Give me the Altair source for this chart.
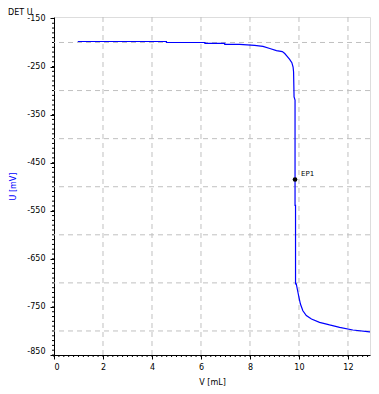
import altair as alt
import pandas as pd

# Titration curve
volume_ml = [0.97, 4.59, 4.59, 6.16, 6.16, 6.97, 6.97, 7.58, 8.19, 8.53, 8.81, 9.08, 9.32,
             9.42, 9.51, 9.62, 9.71, 9.76, 9.78, 9.80, 9.84, 9.84, 9.86, 9.86, 9.89,
             9.96, 10.00, 10.06, 10.16, 10.30, 10.51, 10.84, 11.25, 11.66, 12.20, 12.88, 12.90]
potential_mv = [-198, -198, -200, -200, -202, -202, -204, -204, -206, -208, -212.5, -217, -219,
                -223, -228.5, -235, -242, -251, -261, -313, -320, -539, -539, -702, -702,
                -720, -730, -744, -758, -768, -775, -782, -787.5, -792.5, -798, -802, -802]

ep_volume = [9.84]
ep_potential = [-485]
ep_label = ["EP1"]

corner_title = ["DET U"]

x_label_values = [0, 2, 4, 6, 8, 10, 12]
x_grid_values = [2, 4, 6, 8, 10, 12]
x_minor_values = [round(i * 0.2, 1) for i in range(65)]
y_major_values = list(range(-850, -149, 50))
y_grid_values = [-800, -700, -600, -500, -400, -300, -200]
y_minor_values = list(range(-850, -146, 10))

FONT = "DejaVu Sans"
W, H = 316, 338
GRID = "#c0c0c0"

curve = pd.DataFrame({"V": volume_ml, "U": potential_mv, "i": list(range(len(volume_ml)))})
ep = pd.DataFrame({"V": ep_volume, "U": ep_potential, "t": ep_label})
ttl = pd.DataFrame({"t": corner_title})

x_scale = alt.Scale(domain=[0, 12.9], nice=False, zero=False)
y_scale = alt.Scale(domain=[-850, -147], nice=False, zero=False)

x_axis = alt.Axis(
    values=x_label_values,
    labelOverlap=False,
    labelFont=FONT, labelFontSize=8, labelColor="black", labelPadding=4,
    tickColor="black", tickWidth=1, tickSize=4,
    domainColor="black", grid=False,
    title="V [mL]", titleFont=FONT, titleFontSize=8, titleFontWeight="normal",
    titleColor="black", titleX=W / 2, titleY=27, titleBaseline="middle",
)

y_axis = alt.Axis(
    values=y_major_values,
    labelExpr="abs(datum.value) % 100 == 50 ? '-' + abs(datum.value) : ''",
    labelOverlap=False, labelFlush=True,
    labelFont=FONT, labelFontSize=8, labelColor="black", labelPadding=5,
    tickColor="black", tickWidth=1, tickSize=4,
    domainColor="black", grid=False,
    title="U [mV]", titleFont=FONT, titleFontSize=8, titleFontWeight="normal",
    titleColor="#0000ff", titleX=-41, titleY=H / 2, titleAngle=270,
    titleAlign="center", titleBaseline="middle",
)

xgrid = alt.Chart(pd.DataFrame({"v": x_grid_values})).mark_rule(
    color=GRID, strokeDash=[5, 4], strokeWidth=1
).encode(x=alt.X("v:Q", scale=x_scale, axis=x_axis))

ygrid = alt.Chart(pd.DataFrame({"v": y_grid_values})).mark_rule(
    color=GRID, strokeDash=[5, 4], strokeWidth=1
).encode(y=alt.Y("v:Q", scale=y_scale, axis=y_axis))

xminor = alt.Chart(pd.DataFrame({"v": x_minor_values})).mark_rule(
    color="black", strokeWidth=1
).encode(x=alt.X("v:Q", scale=x_scale), y=alt.value(H), y2=alt.value(H + 2))

yminor = alt.Chart(pd.DataFrame({"v": y_minor_values})).mark_rule(
    color="black", strokeWidth=1
).encode(y=alt.Y("v:Q", scale=y_scale), x=alt.value(-2), x2=alt.value(0))

line = alt.Chart(curve).mark_line(color="#0000ff", strokeWidth=1.2).encode(
    x=alt.X("V:Q", scale=x_scale),
    y=alt.Y("U:Q", scale=y_scale),
    order="i:Q",
)

point = alt.Chart(ep).mark_circle(color="black", size=22, opacity=1).encode(
    x=alt.X("V:Q", scale=x_scale),
    y=alt.Y("U:Q", scale=y_scale),
)

point_text = alt.Chart(ep).mark_text(
    align="left", baseline="middle", dx=6, dy=-6, font=FONT, fontSize=7, color="black"
).encode(
    x=alt.X("V:Q", scale=x_scale),
    y=alt.Y("U:Q", scale=y_scale),
    text="t:N",
)

corner = alt.Chart(ttl).mark_text(
    align="left", baseline="top", font=FONT, fontSize=8, color="black"
).encode(
    x=alt.value(-46),
    y=alt.value(-8),
    text="t:N",
)

chart = alt.layer(xgrid, ygrid, xminor, yminor, line, point, point_text, corner).properties(
    width=W,
    height=H,
    autosize=alt.AutoSizeParams(type="none"),
    padding={"left": 46, "top": 9, "right": 1, "bottom": 31},
).configure_view(stroke="black", strokeWidth=1).configure(background="white")

chart.save("out.html", embed_options={"renderer": "svg", "actions": False})
